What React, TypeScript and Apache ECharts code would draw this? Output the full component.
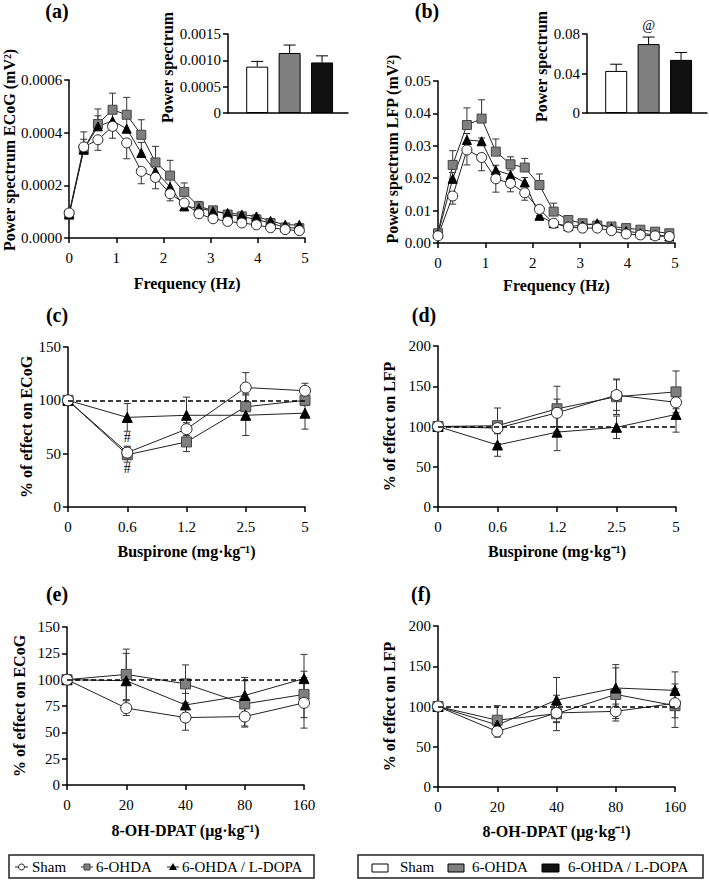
import React, { useEffect, useRef } from "react";
import * as echarts from "echarts";

// ---------- data ----------
const freqHz = [0, 0.31, 0.61, 0.92, 1.22, 1.53, 1.83, 2.14, 2.44, 2.75, 3.05, 3.36, 3.66, 3.97, 4.27, 4.58, 4.88];

const ecogSham = [0.000095, 0.000346, 0.000373, 0.000424, 0.000361, 0.000253, 0.00023, 0.000168, 0.000133, 0.000092, 0.000073, 0.000063, 0.000057, 0.00005, 0.000039, 0.000032, 0.000028];
const ecogShamSem = [0.000005, 0.00001, 0.00004, 0.000045, 0.00006, 0.000047, 0.000043, 0.000027, 0.000025, 0.000012, 0.00001, 0.000008, 0.000007, 0.000006, 0.000005, 0.000005, 0.000004];
const ecog6OHDA = [0.000089, 0.000338, 0.000433, 0.000487, 0.000468, 0.000392, 0.000287, 0.000237, 0.000175, 0.00012, 0.000105, 0.000089, 0.000082, 0.00007, 0.000057, 0.00004, 0.000037];
const ecog6OHDASem = [0.000005, 0.000065, 0.000057, 0.000063, 0.000066, 0.000057, 0.000061, 0.000058, 0.000034, 0.000019, 0.000015, 0.00001, 0.00001, 0.000008, 0.000006, 0.000005, 0.000004];
const ecogLdopa = [0.00009, 0.000335, 0.000424, 0.000445, 0.000415, 0.000323, 0.000253, 0.000194, 0.00012, 0.000114, 0.000101, 0.000095, 0.000089, 0.000082, 0.000065, 0.00005, 0.00005];
const ecogLdopaSem = [0.000005, 0.00004, 0.00004, 0.00004, 0.00004, 0.00004, 0.00003, 0.00003, 0.00002, 0.00001, 0.00001, 0.000008, 0.000008, 0.000006, 0.000005, 0.000005, 0.000004];

const lfpSham = [0.0022, 0.0145, 0.0287, 0.0264, 0.0198, 0.0184, 0.0155, 0.0104, 0.0061, 0.0049, 0.0046, 0.0046, 0.0038, 0.0028, 0.0025, 0.0022, 0.002];
const lfpShamSem = [0.0003, 0.0025, 0.0046, 0.0041, 0.0041, 0.0026, 0.0023, 0.002, 0.001, 0.0008, 0.0006, 0.0005, 0.0005, 0.0004, 0.0003, 0.0003, 0.0002];
const lfp6OHDA = [0.003, 0.0241, 0.0364, 0.0384, 0.0282, 0.0243, 0.0233, 0.0179, 0.0097, 0.0071, 0.0061, 0.0054, 0.0051, 0.0046, 0.0041, 0.0035, 0.003];
const lfp6OHDASem = [0.0005, 0.0044, 0.0053, 0.0058, 0.0039, 0.0023, 0.0028, 0.0034, 0.0026, 0.001, 0.0008, 0.0006, 0.0005, 0.0005, 0.0004, 0.0003, 0.0003];
const lfpLdopa = [0.0028, 0.0198, 0.0318, 0.0314, 0.0225, 0.021, 0.0187, 0.0084, 0.0061, 0.0052, 0.0054, 0.0061, 0.0046, 0.0037, 0.003, 0.0025, 0.002];
const lfpLdopaSem = [0.0003, 0.002, 0.002, 0.001, 0.0015, 0.0015, 0.0015, 0.001, 0.0008, 0.0006, 0.0005, 0.0005, 0.0004, 0.0003, 0.0003, 0.0002, 0.0002];

const groups = ["Sham", "6-OHDA", "6-OHDA / L-DOPA"];
const ecogTotal = [0.00088, 0.00114, 0.00096];
const ecogTotalSem = [0.0001, 0.00015, 0.000125];
const lfpTotal = [0.0426, 0.0698, 0.0538];
const lfpTotalSem = [0.0068, 0.0071, 0.0075];
const lfpTotalMarks = ["", "@", ""];

const buspironeDoses = ["0", "0.6", "1.2", "2.5", "5"];
const ecogBusSham = [100, 51, 73, 112, 109];
const ecogBusShamSem = [0, 6, 6, 14, 7];
const ecogBus6OHDA = [100, 49, 61, 94, 100];
const ecogBus6OHDASem = [0, 7, 9, 12, 5];
const ecogBusLdopa = [100, 84, 86, 86, 88];
const ecogBusLdopaSem = [0, 13, 17, 19, 15];

const lfpBusSham = [100, 98, 117, 139, 130];
const lfpBusShamSem = [0, 5, 17, 19, 8];
const lfpBus6OHDA = [100, 101, 122, 137, 143];
const lfpBus6OHDASem = [0, 22, 28, 22, 26];
const lfpBusLdopa = [100, 77, 93, 99, 115];
const lfpBusLdopaSem = [0, 14, 23, 14, 22];

const dpatDoses = ["0", "20", "40", "80", "160"];
const ecogDpatSham = [100, 73, 64, 65, 78];
const ecogDpatShamSem = [0, 7, 12, 9, 24];
const ecogDpat6OHDA = [100, 105, 96, 77, 86];
const ecogDpat6OHDASem = [0, 24, 18, 22, 22];
const ecogDpatLdopa = [100, 99, 76, 85, 101];
const ecogDpatLdopaSem = [0, 26, 11, 17, 23];

const lfpDpatSham = [100, 69, 92, 94, 104];
const lfpDpatShamSem = [0, 7, 22, 9, 18];
const lfpDpat6OHDA = [100, 83, 91, 115, 101];
const lfpDpat6OHDASem = [0, 18, 10, 33, 27];
const lfpDpatLdopa = [100, 77, 108, 123, 120];
const lfpDpatLdopaSem = [0, 10, 28, 29, 23];

// ---------- styling ----------
const FONT = "Liberation Serif, serif";
const GREY = "#7f7f7f";
const DARK = "#222";

const GRIDS = [
  { left: 68, top: 80, width: 237, height: 158 }, // a
  { left: 228, top: 34, width: 120, height: 79 }, // inset a
  { left: 438, top: 81, width: 237, height: 162 }, // b
  { left: 587, top: 34, width: 120, height: 79 }, // inset b
  { left: 68, top: 347, width: 237, height: 160 }, // c
  { left: 438, top: 346, width: 238, height: 161 }, // d
  { left: 67, top: 627, width: 237, height: 158 }, // e
  { left: 438, top: 626, width: 237, height: 161 }, // f
];

const axisLine = { show: true, onZero: false, lineStyle: { color: "#000", width: 1.5 } };
const axisTick = { show: true, inside: false, length: 5, lineStyle: { color: "#000", width: 1.5 } };
const nameStyle = { fontFamily: FONT, fontWeight: "bold", fontSize: 16, color: "#000" };
const labelStyle = { color: "#000", fontFamily: FONT, fontSize: 15 };

function valueX(gridIndex: number, name: string, nameGap: number) {
  return {
    type: "value", gridIndex, min: 0, max: 5, interval: 1,
    axisLine, axisTick, splitLine: { show: false },
    axisLabel: { ...labelStyle, margin: 12 },
    name, nameLocation: "middle", nameGap, nameTextStyle: nameStyle,
  };
}
function catX(gridIndex: number, data: string[], name: string, nameGap: number) {
  return {
    type: "category", gridIndex, data, boundaryGap: false,
    axisLine, axisTick, splitLine: { show: false },
    axisLabel: { ...labelStyle, margin: 12 },
    name, nameLocation: "middle", nameGap, nameTextStyle: nameStyle,
  };
}
function insetX(gridIndex: number) {
  return {
    type: "value", gridIndex, min: -0.9, max: 2.8,
    axisLine, axisTick: { show: false }, axisLabel: { show: false }, splitLine: { show: false },
  };
}
function valueY(gridIndex: number, min: number, max: number, interval: number, fmt: (v: number) => string, name: string, nameGap: number, shiftUp = 0) {
  return {
    type: "value", gridIndex, min, max, interval,
    axisLine, axisTick, splitLine: { show: false },
    axisLabel: { ...labelStyle, margin: 7, formatter: fmt },
    name, nameLocation: "middle", nameGap,
    nameTextStyle: { ...nameStyle, padding: [0, 0, 0, shiftUp * 2] },
  };
}

type Kind = "sham" | "ohda" | "ldopa";
const markerStyle: Record<Kind, any> = {
  sham: { symbol: "circle", itemStyle: { color: "#fff", borderColor: DARK, borderWidth: 1 } },
  ohda: { symbol: "rect", itemStyle: { color: GREY, borderColor: "#444", borderWidth: 1 } },
  ldopa: { symbol: "triangle", itemStyle: { color: "#000", borderColor: "#000", borderWidth: 1 } },
};
const kindName: Record<Kind, string> = { sham: "Sham", ohda: "6-OHDA", ldopa: "6-OHDA / L-DOPA" };

function lineSeries(axis: number, kind: Kind, data: any[], size: number, extra: any = {}) {
  return {
    type: "line", name: kindName[kind], xAxisIndex: axis, yAxisIndex: axis,
    data, symbolSize: size, ...markerStyle[kind],
    lineStyle: { color: DARK, width: 1 }, z: 3, ...extra,
  };
}

function errSeries(axis: number, xs: number[], means: number[], sems: number[], dir: "up" | "down" | "both", cap: number, stroke = "#333") {
  const data = means.map((m, i) => [
    xs[i],
    dir === "up" ? m : m - sems[i],
    dir === "down" ? m : m + sems[i],
    m,
  ]);
  return {
    type: "custom", xAxisIndex: axis, yAxisIndex: axis, z: 2, silent: true,
    encode: { x: 0, y: [1, 2] },
    data,
    renderItem: (params: any, api: any) => {
      const x = api.value(0);
      const lo = api.value(1);
      const hi = api.value(2);
      const m = api.value(3);
      const pL = api.coord([x, lo]);
      const pH = api.coord([x, hi]);
      const st = { stroke, lineWidth: 1 };
      const children: any[] = [
        { type: "line", shape: { x1: pL[0], y1: pL[1], x2: pH[0], y2: pH[1] }, style: st },
      ];
      if (hi !== m) children.push({ type: "line", shape: { x1: pH[0] - cap, y1: pH[1], x2: pH[0] + cap, y2: pH[1] }, style: st });
      if (lo !== m) children.push({ type: "line", shape: { x1: pL[0] - cap, y1: pL[1], x2: pL[0] + cap, y2: pL[1] }, style: st });
      return { type: "group", children };
    },
  };
}

const dashed100 = {
  silent: true, symbol: ["none", "none"], label: { show: false },
  lineStyle: { type: [5, 3], color: "#000", width: 1.5 },
  data: [{ yAxis: 100 }],
};

function spectrumPanel(axis: number, sham: number[], shamSem: number[], ohda: number[], ohdaSem: number[], ld: number[], ldSem: number[]) {
  const pts = (arr: number[]) => arr.map((v, i) => [freqHz[i], v]);
  return [
    errSeries(axis, freqHz, ohda, ohdaSem, "up", 3.5),
    errSeries(axis, freqHz, ld, ldSem, "up", 3.5),
    errSeries(axis, freqHz, sham, shamSem, "down", 3.5),
    lineSeries(axis, "ohda", pts(ohda), 9),
    lineSeries(axis, "ldopa", pts(ld), 9),
    lineSeries(axis, "sham", pts(sham), 10),
  ];
}

function dosePanel(axis: number, sham: number[], shamSem: number[], ohda: number[], ohdaSem: number[], ld: number[], ldSem: number[], shamExtra: any = {}) {
  const idx = sham.map((_, i) => i);
  return [
    errSeries(axis, idx, ohda, ohdaSem, "both", 3.5),
    errSeries(axis, idx, ld, ldSem, "both", 3.5),
    errSeries(axis, idx, sham, shamSem, "both", 3.5),
    lineSeries(axis, "ohda", ohda, 10, { markLine: dashed100 }),
    lineSeries(axis, "ldopa", ld, 10),
    lineSeries(axis, "sham", sham, 11, shamExtra),
  ];
}

function insetBars(axis: number, vals: number[], sems: number[], marks?: string[]) {
  const fills = ["#fff", GREY, "#111"];
  return [
    {
      type: "bar", xAxisIndex: axis, yAxisIndex: axis, barWidth: 22, z: 2,
      data: vals.map((v, i) => ({
        value: [i, v], name: groups[i],
        itemStyle: { color: fills[i], borderColor: "#000", borderWidth: 1 },
        label: marks && marks[i]
          ? { show: true, position: "top", distance: 12, formatter: marks[i], color: "#000", fontFamily: FONT, fontSize: 14 }
          : { show: false },
      })),
    },
    errSeries(axis, vals.map((_, i) => i), vals, sems, "up", 6, "#000"),
  ];
}

const fmt4 = (v: number) => (v === 0 ? "0" : v.toFixed(4));
const fmt2 = (v: number) => (v === 0 ? "0" : v.toFixed(2));

function textEl(text: string, x: number, y: number, size: number, bold = false, align = "left") {
  return {
    type: "text", x, y, silent: true,
    style: {
      text, x: 0, y: 0, fill: "#000",
      font: `${bold ? "bold " : ""}${size}px ${FONT}`,
      align, verticalAlign: "middle", textAlign: align, textVerticalAlign: "middle",
    },
  };
}

export default function App() {
  const ref = useRef<HTMLDivElement>(null);
  useEffect(() => {
    if (!ref.current) return;
    const chart = echarts.init(ref.current, undefined, { renderer: "svg" });

    const hashMark = {
      symbol: "rect", symbolSize: 1, itemStyle: { color: "rgba(0,0,0,0)" },
      label: { show: true, position: "inside", formatter: "#", color: "#000", fontFamily: FONT, fontSize: 14 },
      data: [{ coord: ["0.6", 65] }, { coord: ["0.6", 36] }],
    };

    const legendY = 867;
    const graphic: any[] = [
      textEl("(a)", 57, 11, 20, true, "center"),
      textEl("(b)", 427, 11, 20, true, "center"),
      textEl("(c)", 57, 315, 20, true, "center"),
      textEl("(d)", 424, 315, 20, true, "center"),
      textEl("(e)", 57, 594, 20, true, "center"),
      textEl("(f)", 421, 594, 20, true, "center"),
      // left legend
      { type: "rect", shape: { x: 9, y: 855, width: 305, height: 23 }, style: { fill: "#fff", stroke: "#222", lineWidth: 1.5 } },
      { type: "line", shape: { x1: 15, y1: legendY, x2: 28, y2: legendY }, style: { stroke: DARK, lineWidth: 1 } },
      { type: "circle", shape: { cx: 21.5, cy: legendY, r: 3 }, style: { fill: "#fff", stroke: DARK, lineWidth: 1 } },
      textEl(groups[0], 32, legendY, 15),
      { type: "line", shape: { x1: 81, y1: legendY, x2: 93, y2: legendY }, style: { stroke: DARK, lineWidth: 1 } },
      { type: "rect", shape: { x: 84, y: legendY - 3, width: 6, height: 6 }, style: { fill: GREY, stroke: "#444", lineWidth: 1 } },
      textEl(groups[1], 96, legendY, 15),
      { type: "line", shape: { x1: 167, y1: legendY, x2: 179, y2: legendY }, style: { stroke: DARK, lineWidth: 1 } },
      { type: "polygon", shape: { points: [[173, legendY - 4], [177, legendY + 3], [169, legendY + 3]] }, style: { fill: "#000" } },
      textEl(groups[2], 182, legendY, 15),
      // right legend
      { type: "rect", shape: { x: 358, y: 855, width: 345, height: 23 }, style: { fill: "#fff", stroke: "#222", lineWidth: 1.5 } },
      { type: "rect", shape: { x: 372, y: 864, width: 16, height: 8 }, style: { fill: "#fff", stroke: "#000", lineWidth: 1 } },
      textEl(groups[0], 400, legendY, 15),
      { type: "rect", shape: { x: 448, y: 864, width: 16, height: 8 }, style: { fill: GREY, stroke: "#000", lineWidth: 1 } },
      textEl(groups[1], 472, legendY, 15),
      { type: "rect", shape: { x: 542, y: 864, width: 17, height: 8 }, style: { fill: "#111", stroke: "#000", lineWidth: 1 } },
      textEl(groups[2], 568, legendY, 15),
    ];

    const option: any = {
      animation: false,
      backgroundColor: "#fff",
      textStyle: { fontFamily: FONT },
      grid: GRIDS.map((g) => ({ ...g, containLabel: false })),
      xAxis: [
        valueX(0, "Frequency (Hz)", 37),
        insetX(1),
        valueX(2, "Frequency (Hz)", 34),
        insetX(3),
        catX(4, buspironeDoses, "Buspirone (mg·kg⁻¹)", 36),
        catX(5, buspironeDoses, "Buspirone (mg·kg⁻¹)", 36),
        catX(6, dpatDoses, "8-OH-DPAT (μg·kg⁻¹)", 37),
        catX(7, dpatDoses, "8-OH-DPAT (μg·kg⁻¹)", 36),
      ],
      yAxis: [
        valueY(0, 0, 0.0006, 0.0002, (v) => v.toFixed(4), "Power spectrum ECoG (mV²)", 49, 9),
        valueY(1, 0, 0.0015, 0.0005, fmt4, "Power spectrum", 50, 6),
        valueY(2, 0, 0.05, 0.01, (v) => v.toFixed(2), "Power spectrum LFP (mV²)", 35, 13),
        valueY(3, 0, 0.08, 0.04, fmt2, "Power spectrum", 37, 7),
        valueY(4, 0, 150, 50, (v) => String(v), "% of effect on ECoG", 32),
        valueY(5, 0, 200, 50, (v) => String(v), "% of effect on LFP", 41),
        valueY(6, 0, 150, 25, (v) => String(v), "% of effect on ECoG", 40),
        valueY(7, 0, 200, 50, (v) => String(v), "% of effect on LFP", 41),
      ],
      series: [
        ...spectrumPanel(0, ecogSham, ecogShamSem, ecog6OHDA, ecog6OHDASem, ecogLdopa, ecogLdopaSem),
        ...insetBars(1, ecogTotal, ecogTotalSem),
        ...spectrumPanel(2, lfpSham, lfpShamSem, lfp6OHDA, lfp6OHDASem, lfpLdopa, lfpLdopaSem),
        ...insetBars(3, lfpTotal, lfpTotalSem, lfpTotalMarks),
        ...dosePanel(4, ecogBusSham, ecogBusShamSem, ecogBus6OHDA, ecogBus6OHDASem, ecogBusLdopa, ecogBusLdopaSem, { markPoint: hashMark }),
        ...dosePanel(5, lfpBusSham, lfpBusShamSem, lfpBus6OHDA, lfpBus6OHDASem, lfpBusLdopa, lfpBusLdopaSem),
        ...dosePanel(6, ecogDpatSham, ecogDpatShamSem, ecogDpat6OHDA, ecogDpat6OHDASem, ecogDpatLdopa, ecogDpatLdopaSem),
        ...dosePanel(7, lfpDpatSham, lfpDpatShamSem, lfpDpat6OHDA, lfpDpat6OHDASem, lfpDpatLdopa, lfpDpatLdopaSem),
      ],
      graphic,
    };
    chart.setOption(option);
    return () => chart.dispose();
  }, []);
  return <div ref={ref} style={{ position: "absolute", left: 0, top: 0, width: 709, height: 880 }} />;
}
